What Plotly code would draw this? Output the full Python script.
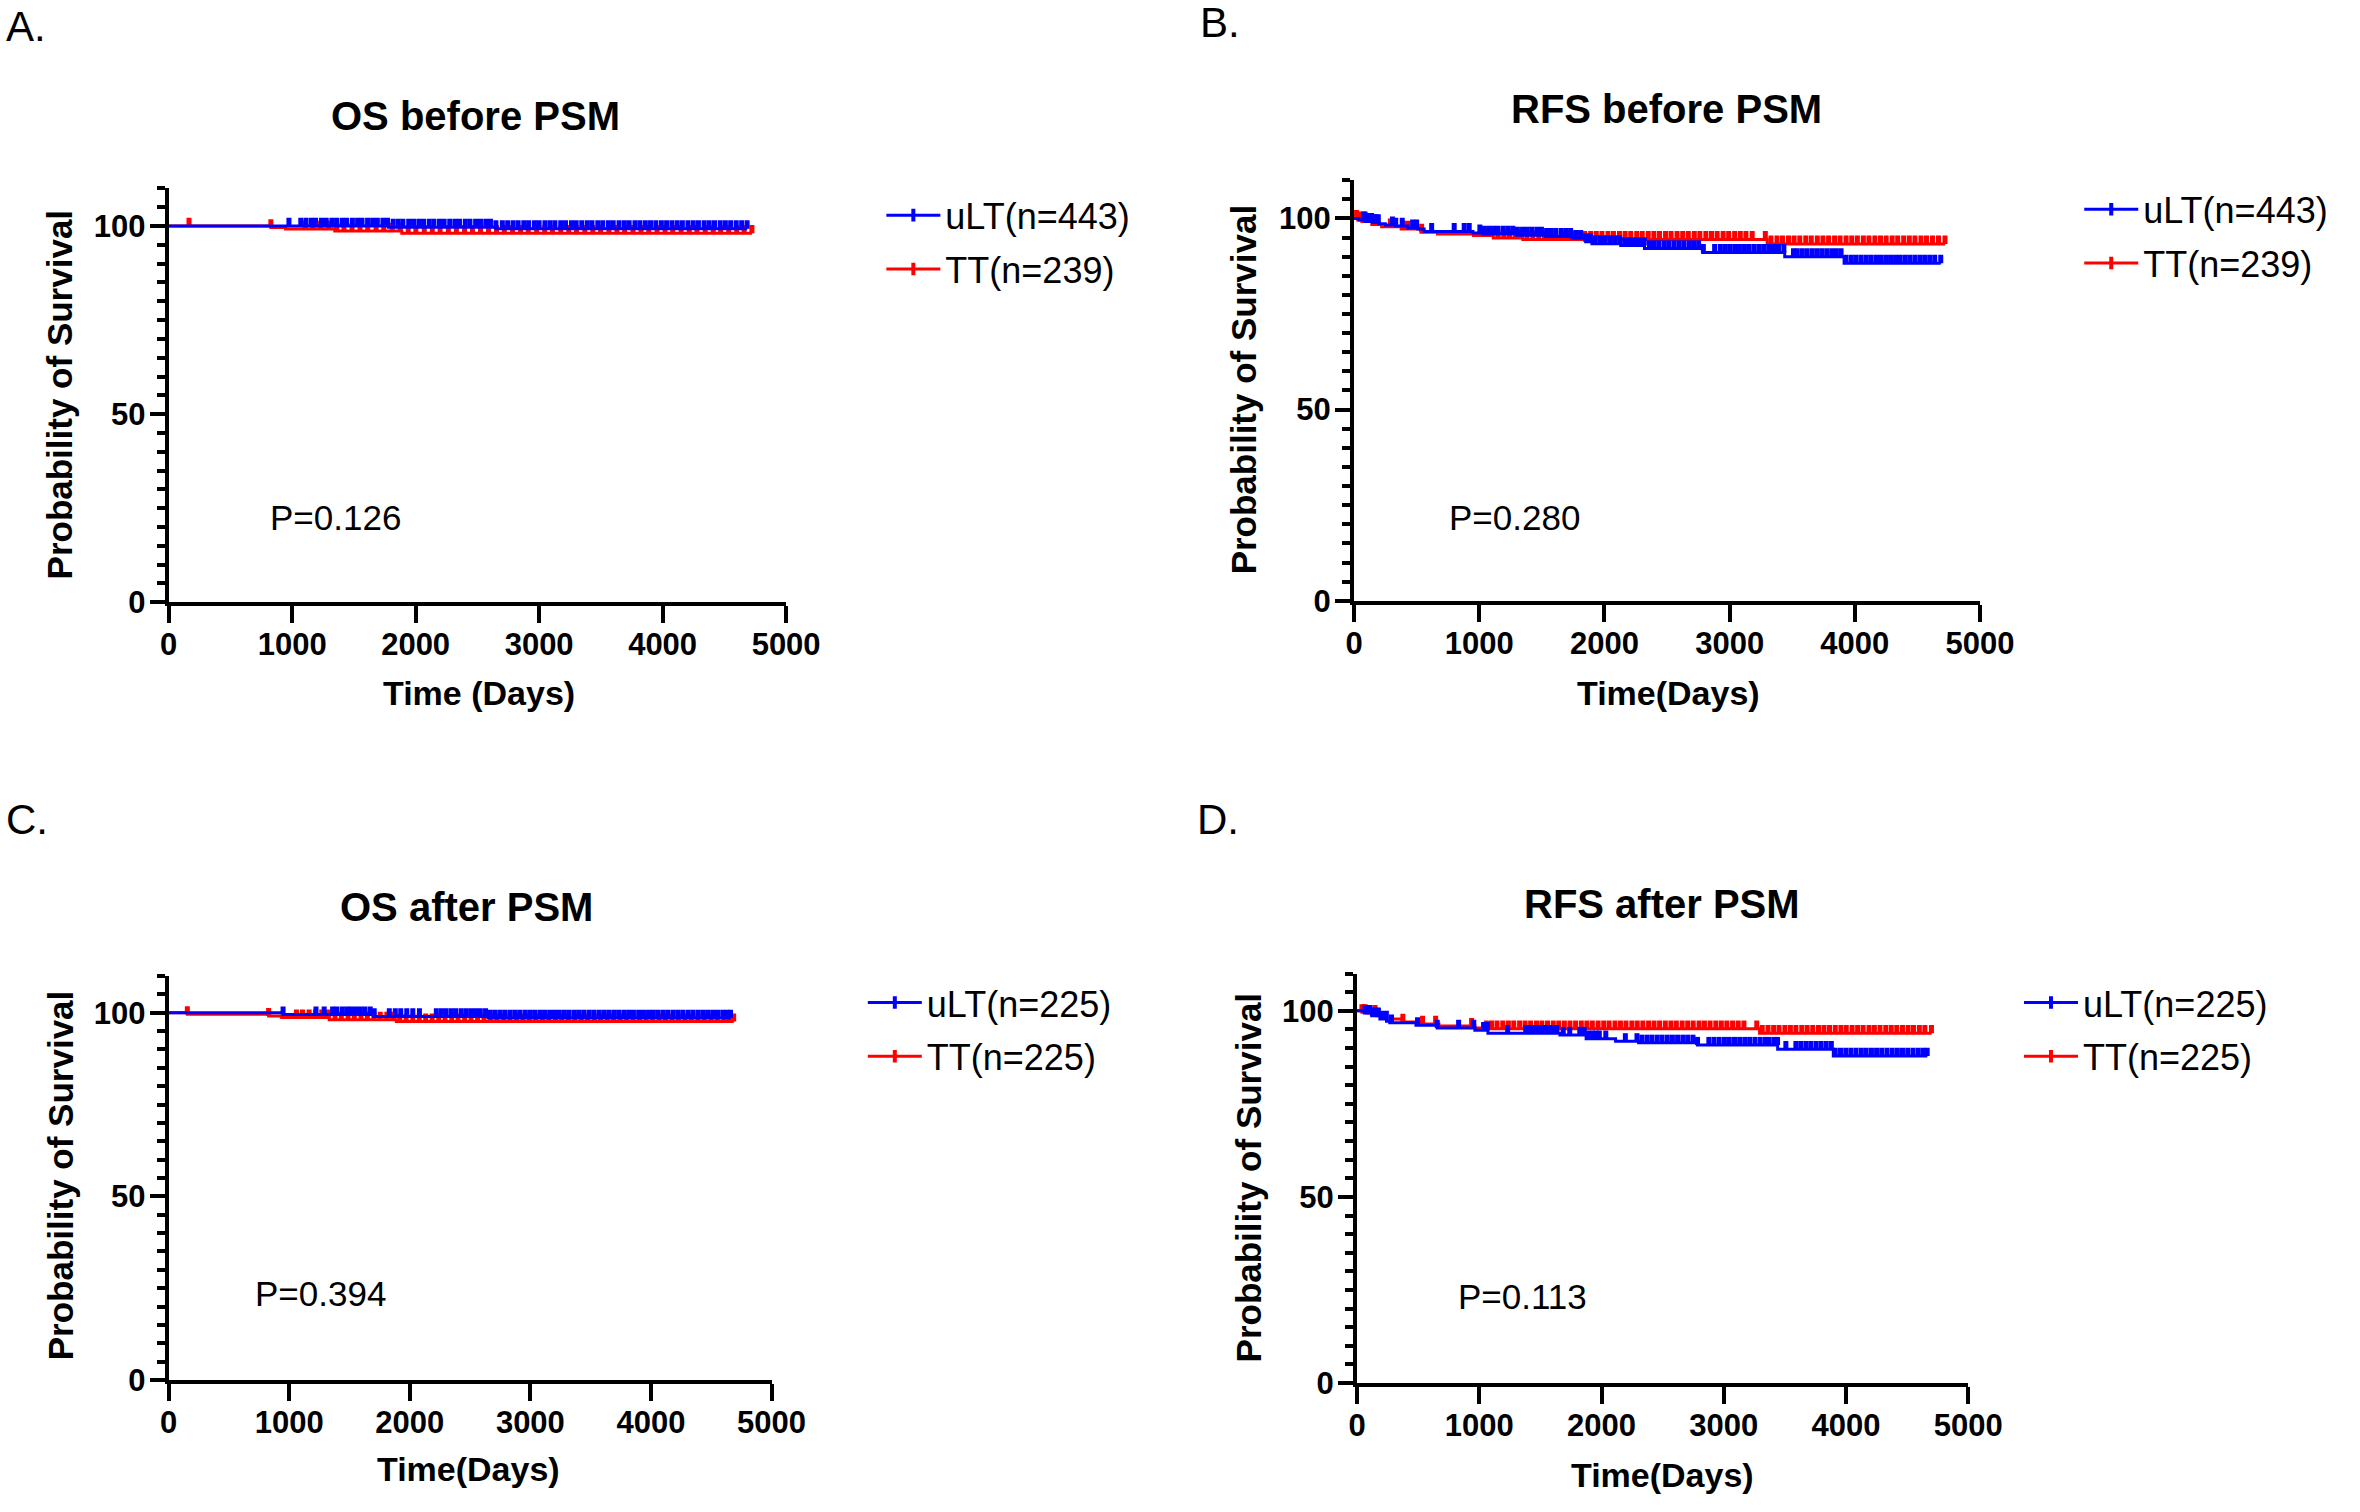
import numpy as np
import plotly.graph_objects as go

# ---- data (days, survival %) ----
# A: OS before PSM
A_blue_t = [0, 1780, 2650]
A_blue_s = [100, 99.7, 99.3]
A_blue_c = [974, 1070, 1112, 1155, 1190, 1238, 1276, 1322, 1360, 1405, 1441, 1488, 1530, 1566,
            1611, 1652, 1690, 1735, 1772, 1818, 1859, 1897, 1944, 1983, 2026, 2064, 2110, 2148,
            2193, 2231, 2276, 2318, 2355, 2402, 2440, 2486, 2525, 2568, 2606, 2650, 2702, 2745,
            2789, 2830, 2876, 2915, 2962, 3000, 3047, 3088, 3128, 3175, 3214, 3262, 3300, 3345,
            3390, 3428, 3475, 3515, 3561, 3600, 3647, 3690, 3729, 3776, 3816, 3860, 3902, 3945,
            3990, 4032, 4075, 4118, 4160, 4205, 4248, 4290, 4336, 4377, 4420, 4466, 4508, 4551,
            4596, 4640, 4684]
A_red_t = [0, 828, 947, 1345, 1888]
A_red_s = [100, 99.6, 99.2, 98.7, 98.1]
A_red_c = [165, 828, 1105, 1168, 1230, 1296, 1362, 1420, 1485, 1550, 1612, 1680, 1742, 1810,
           1875, 1940, 2002, 2070, 2135, 2198, 2265, 2330, 2396, 2460, 2525, 2590, 2655, 2718,
           2785, 2850, 2912, 2980, 3045, 3108, 3175, 3240, 3302, 3370, 3435, 3498, 3565, 3630,
           3692, 3760, 3825, 3888, 3955, 4020, 4082, 4150, 4215, 4278, 4345, 4410, 4470, 4535,
           4600, 4660, 4723]

# B: RFS before PSM
B_blue_t = [0, 40, 90, 150, 200, 250, 330, 430, 510, 560, 950, 1030, 1300, 1530, 1740, 1850,
            1900, 2130, 2320, 2784, 3440, 3914]
B_blue_s = [100, 99.6, 99.2, 98.9, 98.6, 98.3, 98.0, 97.5, 97.2, 96.6, 96.2, 95.9, 95.6, 95.3,
            94.8, 93.9, 93.4, 92.9, 92.1, 91.1, 90.0, 88.3]
B_blue_c = [76, 88, 100, 112, 125, 140, 158, 176, 194, 307, 333, 385, 468, 500, 620, 800, 880,
            920, 1005, 1040, 1078, 1115, 1150, 1192, 1230, 1268, 1305, 1346, 1383, 1420, 1460,
            1497, 1538, 1575, 1612, 1655, 1693, 1730, 1772, 1810, 1850, 1888, 1926, 1968, 2005,
            2045, 2083, 2122, 2162, 2200, 2240, 2280, 2318, 2360, 2398, 2436, 2478, 2515, 2556,
            2595, 2634, 2675, 2712, 2752, 2790, 2880, 2925, 2962, 3000, 3040, 3078, 3118, 3155,
            3195, 3234, 3272, 3312, 3350, 3390, 3433, 3510, 3540, 3580, 3618, 3658, 3696, 3735,
            3775, 3815, 3852, 3890, 3930, 3972, 4010, 4050, 4090, 4128, 4168, 4205, 4246, 4285,
            4325, 4362, 4402, 4440, 4480, 4520, 4558, 4598, 4638, 4686]
B_red_t = [0, 30, 63, 142, 220, 377, 535, 666, 954, 1112, 1348, 3300]
B_red_s = [100, 99.6, 99.2, 98.4, 97.8, 97.2, 96.4, 95.9, 95.5, 94.9, 94.5, 93.3]
B_red_c = [20, 45, 290, 395, 430, 540, 1060, 1105, 1150, 1198, 1242, 1290, 1335, 1382, 1428,
           1475, 1520, 1566, 1612, 1660, 1705, 1750, 1798, 1842, 1890, 1935, 1980, 2028, 2072,
           2120, 2165, 2210, 2258, 2302, 2350, 2395, 2440, 2488, 2532, 2580, 2625, 2670, 2718,
           2762, 2810, 2855, 2900, 2948, 2992, 3040, 3085, 3130, 3180, 3285, 3330, 3378, 3422,
           3470, 3515, 3560, 3608, 3652, 3700, 3745, 3790, 3838, 3882, 3930, 3975, 4020, 4068,
           4112, 4160, 4205, 4250, 4298, 4342, 4390, 4435, 4480, 4528, 4572, 4620, 4668, 4720]

# C: OS after PSM
C_blue_t = [0, 949, 1700, 2650]
C_blue_s = [100, 99.5, 99.0, 98.6]
C_blue_c = [949, 1222, 1290, 1360, 1395, 1440, 1478, 1512, 1550, 1590, 1628, 1672, 1705, 1830,
            1880, 1925, 1975, 2025, 2080, 2220, 2262, 2300, 2342, 2380, 2425, 2465, 2505, 2545,
            2585, 2628, 2668, 2708, 2750, 2790, 2832, 2872, 2912, 2955, 2995, 3035, 3078, 3118,
            3160, 3200, 3240, 3282, 3322, 3365, 3405, 3445, 3488, 3528, 3570, 3610, 3650, 3692,
            3732, 3775, 3815, 3855, 3898, 3938, 3980, 4020, 4060, 4102, 4142, 4185, 4225, 4265,
            4308, 4348, 4390, 4430, 4470, 4512, 4552, 4595, 4630, 4660]
C_red_t = [0, 155, 829, 937, 1332, 1888]
C_red_s = [100, 99.6, 99.1, 98.7, 98.1, 97.6]
C_red_c = [155, 829, 1060, 1110, 1165, 1218, 1270, 1325, 1380, 1432, 1488, 1540, 1595, 1648,
           1702, 1755, 1810, 1862, 1918, 1970, 2025, 2078, 2132, 2185, 2240, 2292, 2348, 2400,
           2455, 2508, 2562, 2615, 2670, 2722, 2778, 2830, 2885, 2938, 2992, 3045, 3100, 3152,
           3208, 3260, 3315, 3368, 3422, 3475, 3530, 3582, 3638, 3690, 3745, 3798, 3852, 3905,
           3960, 4012, 4068, 4120, 4175, 4228, 4282, 4335, 4390, 4442, 4498, 4550, 4605, 4650,
           4686]

# D: RFS after PSM
D_blue_t = [0, 60, 120, 187, 241, 268, 482, 656, 964, 1071, 1660, 1874, 2115, 2303, 2785,
            3441, 3896]
D_blue_s = [100, 99.4, 98.7, 97.8, 97.2, 96.8, 96.1, 95.4, 94.8, 94.0, 93.5, 92.5, 91.8, 91.4,
            90.8, 89.7, 87.9]
D_blue_c = [65, 85, 105, 125, 150, 175, 200, 240, 282, 495, 656, 831, 955, 1035, 1068, 1232,
            1380, 1412, 1445, 1478, 1512, 1545, 1578, 1610, 1635, 1687, 1740, 1822, 1858, 1890,
            1925, 1955, 1982, 2035, 2195, 2290, 2330, 2372, 2412, 2455, 2495, 2538, 2580, 2622,
            2665, 2705, 2748, 2785, 2878, 2920, 2962, 3005, 3045, 3088, 3130, 3172, 3212, 3255,
            3298, 3340, 3372, 3414, 3440, 3508, 3590, 3630, 3672, 3712, 3755, 3796, 3838, 3880,
            3912, 3955, 3998, 4040, 4082, 4125, 4165, 4208, 4250, 4292, 4335, 4378, 4420, 4462,
            4505, 4548, 4590, 4630, 4664]
D_red_t = [0, 40, 80, 160, 240, 375, 535, 670, 964, 1045, 3293]
D_red_s = [100, 99.6, 99.4, 98.7, 97.8, 97.0, 96.5, 95.9, 95.4, 95.2, 94.0]
D_red_c = [40, 55, 67, 147, 375, 536, 643, 937, 1058, 1100, 1145, 1192, 1238, 1282, 1330, 1375,
           1420, 1468, 1512, 1558, 1605, 1650, 1696, 1742, 1788, 1835, 1880, 1925, 1972, 2018,
           2062, 2110, 2155, 2200, 2248, 2292, 2338, 2385, 2430, 2475, 2522, 2568, 2612, 2660,
           2705, 2750, 2798, 2842, 2888, 2935, 2980, 3025, 3072, 3118, 3165, 3270, 3315, 3362,
           3408, 3452, 3500, 3545, 3590, 3638, 3682, 3728, 3775, 3820, 3865, 3912, 3958, 4002,
           4050, 4095, 4140, 4188, 4232, 4278, 4325, 4370, 4415, 4462, 4508, 4552, 4600, 4645,
           4699]

titles = ["OS before PSM", "RFS before PSM", "OS after PSM", "RFS after PSM"]
panel_labels = ["A.", "B.", "C.", "D."]
xtitles = ["Time (Days)", "Time(Days)", "Time(Days)", "Time(Days)"]
p_values = ["P=0.126", "P=0.280", "P=0.394", "P=0.113"]
legend_names = [("uLT(n=443)", "TT(n=239)"), ("uLT(n=443)", "TT(n=239)"),
                ("uLT(n=225)", "TT(n=225)"), ("uLT(n=225)", "TT(n=225)")]
x_ticks = [0, 1000, 2000, 3000, 4000, 5000]
y_ticks = [0, 50, 100]

curves = [
    ((A_blue_t, A_blue_s, A_blue_c), (A_red_t, A_red_s, A_red_c)),
    ((B_blue_t, B_blue_s, B_blue_c), (B_red_t, B_red_s, B_red_c)),
    ((C_blue_t, C_blue_s, C_blue_c), (C_red_t, C_red_s, C_red_c)),
    ((D_blue_t, D_blue_s, D_blue_c), (D_red_t, D_red_s, D_red_c)),
]

BLUE = "#0000FF"
RED = "#FF0000"
FONT = "Liberation Sans, Arial, sans-serif"

# layout placement (paper fractions)
x_dom = [[0.0689, 0.3354], [0.5805, 0.8507], [0.0689, 0.3291], [0.5818, 0.8456]]
y_dom = [[0.5969, 0.8739], [0.5979, 0.8794], [0.0763, 0.3467], [0.0743, 0.3483]]
title_pos = [(0.2015, 0.9224), (0.7155, 0.9273), (0.1975, 0.3929), (0.7136, 0.3948)]
label_pos = [(-0.002, 0.982), (0.5133, 0.985), (-0.002, 0.4517), (0.512, 0.4517)]
xt_pos = [(0.2028, 0.5362), (0.7161, 0.5362), (0.1983, 0.0165), (0.7136, 0.0125)]
yt_pos = [(0.0216, 0.736), (0.5326, 0.7394), (0.0226, 0.2136), (0.5350, 0.2116)]
p_pos = [(802, 22.5), (740, 21.8), (699, 23.5), (806, 23.2)]
leg_pos = [(0.3765, 0.876), (0.8935, 0.880), (0.3685, 0.349), (0.8675, 0.349)]

fig = go.Figure()


def step_value(t, s, c):
    idx = np.searchsorted(np.array(t), np.array(c), side="right") - 1
    return list(np.array(s)[idx])


for i, pair in enumerate(curves):
    ax = "" if i == 0 else str(i + 1)
    leg = "legend" if i == 0 else "legend" + str(i + 1)
    # red drawn first, blue on top
    for (t, s, c), col in ((pair[1], RED), (pair[0], BLUE)):
        end = max(c)
        fig.add_trace(go.Scatter(
            x=list(t) + [end], y=list(s) + [s[-1]], mode="lines",
            line=dict(color=col, width=3, shape="hv"),
            xaxis="x" + ax, yaxis="y" + ax, showlegend=False, hoverinfo="skip"))
        fig.add_trace(go.Scatter(
            x=c, y=step_value(t, s, c), mode="markers",
            marker=dict(size=1, color=col),
            error_y=dict(type="constant", symmetric=False, value=2.2, valueminus=0,
                         thickness=5, width=0, color=col),
            xaxis="x" + ax, yaxis="y" + ax, showlegend=False, hoverinfo="skip"))
    for name, col in zip(legend_names[i], (BLUE, RED)):
        fig.add_trace(go.Scatter(
            x=[None], y=[None], mode="lines+markers", name=name,
            line=dict(color=col, width=3),
            marker=dict(symbol="line-ns", size=9, line=dict(color=col, width=4)),
            xaxis="x" + ax, yaxis="y" + ax, legend=leg, legendgroup=name + str(i)))

layout = dict(
    width=2360, height=1512, margin=dict(l=0, r=0, t=0, b=0),
    paper_bgcolor="white", plot_bgcolor="white",
    font=dict(family=FONT, color="black"),
    annotations=[],
)

for i in range(4):
    ax = "" if i == 0 else str(i + 1)
    layout["xaxis" + ax] = dict(
        domain=x_dom[i], range=[0, 5000], tickvals=x_ticks, ticks="outside", ticklen=17,
        tickwidth=4, tickcolor="black", showline=True, linewidth=4, linecolor="black",
        showgrid=False, zeroline=False, anchor="y" + ax, ticklabelstandoff=-5,
        tickfont=dict(family=FONT, size=31, weight="bold"))
    layout["yaxis" + ax] = dict(
        domain=y_dom[i], range=[0, 110], tickvals=y_ticks, ticks="outside", ticklen=15,
        tickwidth=4, tickcolor="black", showline=True, linewidth=4, linecolor="black",
        showgrid=False, zeroline=False, anchor="x" + ax, ticklabelstandoff=-2,
        minor=dict(dtick=5, ticks="outside", ticklen=8, tickwidth=4, tickcolor="black"),
        tickfont=dict(family=FONT, size=31, weight="bold"))
    leg = "legend" if i == 0 else "legend" + str(i + 1)
    layout[leg] = dict(
        x=leg_pos[i][0], y=leg_pos[i][1], xanchor="left", yanchor="top",
        font=dict(family=FONT, size=36), bgcolor="rgba(0,0,0,0)", tracegroupgap=4,
        itemwidth=54)
    layout["annotations"] += [
        dict(text=titles[i], x=title_pos[i][0], y=title_pos[i][1], xref="paper", yref="paper",
             showarrow=False, font=dict(size=40, weight="bold"), xanchor="center",
             yanchor="middle"),
        dict(text=panel_labels[i], x=label_pos[i][0], y=label_pos[i][1], xref="paper",
             yref="paper", showarrow=False, font=dict(size=42), xanchor="left",
             yanchor="middle"),
        dict(text=xtitles[i], x=xt_pos[i][0], y=xt_pos[i][1], xref="paper", yref="paper",
             showarrow=False, font=dict(size=34, weight="bold"), xanchor="center",
             yanchor="middle"),
        dict(text="Probability of Survival", x=yt_pos[i][0], y=yt_pos[i][1], xref="paper",
             yref="paper", showarrow=False, font=dict(size=35, weight="bold"), textangle=-90,
             xanchor="center", yanchor="middle"),
        dict(text=p_values[i], x=p_pos[i][0], y=p_pos[i][1], xref="x" + ax, yref="y" + ax,
             showarrow=False, font=dict(size=35), xanchor="left", yanchor="middle"),
    ]

fig.update_layout(**layout)
fig.write_html("out.html", config={"displayModeBar": False},
               post_script="document.body.style.margin='0';")
